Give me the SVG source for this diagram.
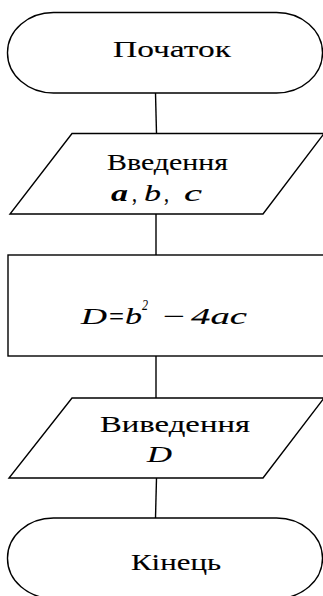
<svg xmlns="http://www.w3.org/2000/svg" width="323" height="596" viewBox="0 0 323 596">
  <style>
    .shape { fill: #ffffff; stroke: #000000; stroke-width: 1.4; }
    .conn { stroke: #000000; stroke-width: 1.4; fill: none; }
    text { font-size: 23px; fill: #000000; stroke: #000000; stroke-width: 0.12; }
    .mi { font-style: italic; }
    .mb { font-style: italic; font-weight: bold; stroke-width: 0; }
    .sup { font-size: 14px; stroke-width: 0.05; }
  </style>
  <rect width="323" height="596" fill="#ffffff"/>
  <g id="connectors">
    <line class="conn" x1="155.5" y1="93" x2="156.5" y2="133.5"/>
    <line class="conn" x1="156" y1="214" x2="156" y2="255"/>
    <line class="conn" x1="156" y1="356" x2="156" y2="398"/>
    <line class="conn" x1="156.5" y1="478" x2="155.5" y2="518"/>
  </g>
  <g font-family="Liberation Serif, Times New Roman, serif">
  <g id="start">
    <rect class="shape" x="7.5" y="12.5" width="315" height="80.5" rx="46" ry="40"/>
    <text x="113" y="57" textLength="118" lengthAdjust="spacingAndGlyphs">Початок</text>
  </g>
  <g id="input">
    <polygon class="shape" points="72,133.5 324,133.5 263,214 10,214"/>
    <text x="107" y="170" textLength="121" lengthAdjust="spacingAndGlyphs">Введення</text>
    <text class="mb" x="111" y="201" textLength="17" lengthAdjust="spacingAndGlyphs">a</text>
    <text x="132" y="201" textLength="5" lengthAdjust="spacingAndGlyphs">,</text>
    <text class="mi" x="144" y="201" textLength="17" lengthAdjust="spacingAndGlyphs">b</text>
    <text x="164" y="201" textLength="5" lengthAdjust="spacingAndGlyphs">,</text>
    <text class="mi" x="184" y="201" textLength="18" lengthAdjust="spacingAndGlyphs">c</text>
  </g>
  <g id="process">
    <rect class="shape" x="8" y="255" width="316" height="101"/>
    <text class="mi" x="81" y="324" textLength="26" lengthAdjust="spacingAndGlyphs">D</text>
    <text x="109" y="324" textLength="15" lengthAdjust="spacingAndGlyphs">=</text>
    <text class="mi" x="125" y="324" textLength="17" lengthAdjust="spacingAndGlyphs">b</text>
    <text class="mi sup" x="142" y="310" textLength="6" lengthAdjust="spacingAndGlyphs">2</text>
    <text x="163" y="324" textLength="22" lengthAdjust="spacingAndGlyphs">−</text>
    <text class="mi" x="191" y="324" textLength="56" lengthAdjust="spacingAndGlyphs">4ac</text>
  </g>
  <g id="output">
    <polygon class="shape" points="72,398 324,398 263,478 9,478"/>
    <text x="100" y="432" textLength="150" lengthAdjust="spacingAndGlyphs">Виведення</text>
    <text class="mi" x="147" y="462" textLength="25" lengthAdjust="spacingAndGlyphs">D</text>
  </g>
  <g id="end">
    <rect class="shape" x="7.5" y="518" width="315" height="80.5" rx="46" ry="40"/>
    <text x="131" y="570" textLength="90" lengthAdjust="spacingAndGlyphs">Кінець</text>
  </g>
  </g>
</svg>
